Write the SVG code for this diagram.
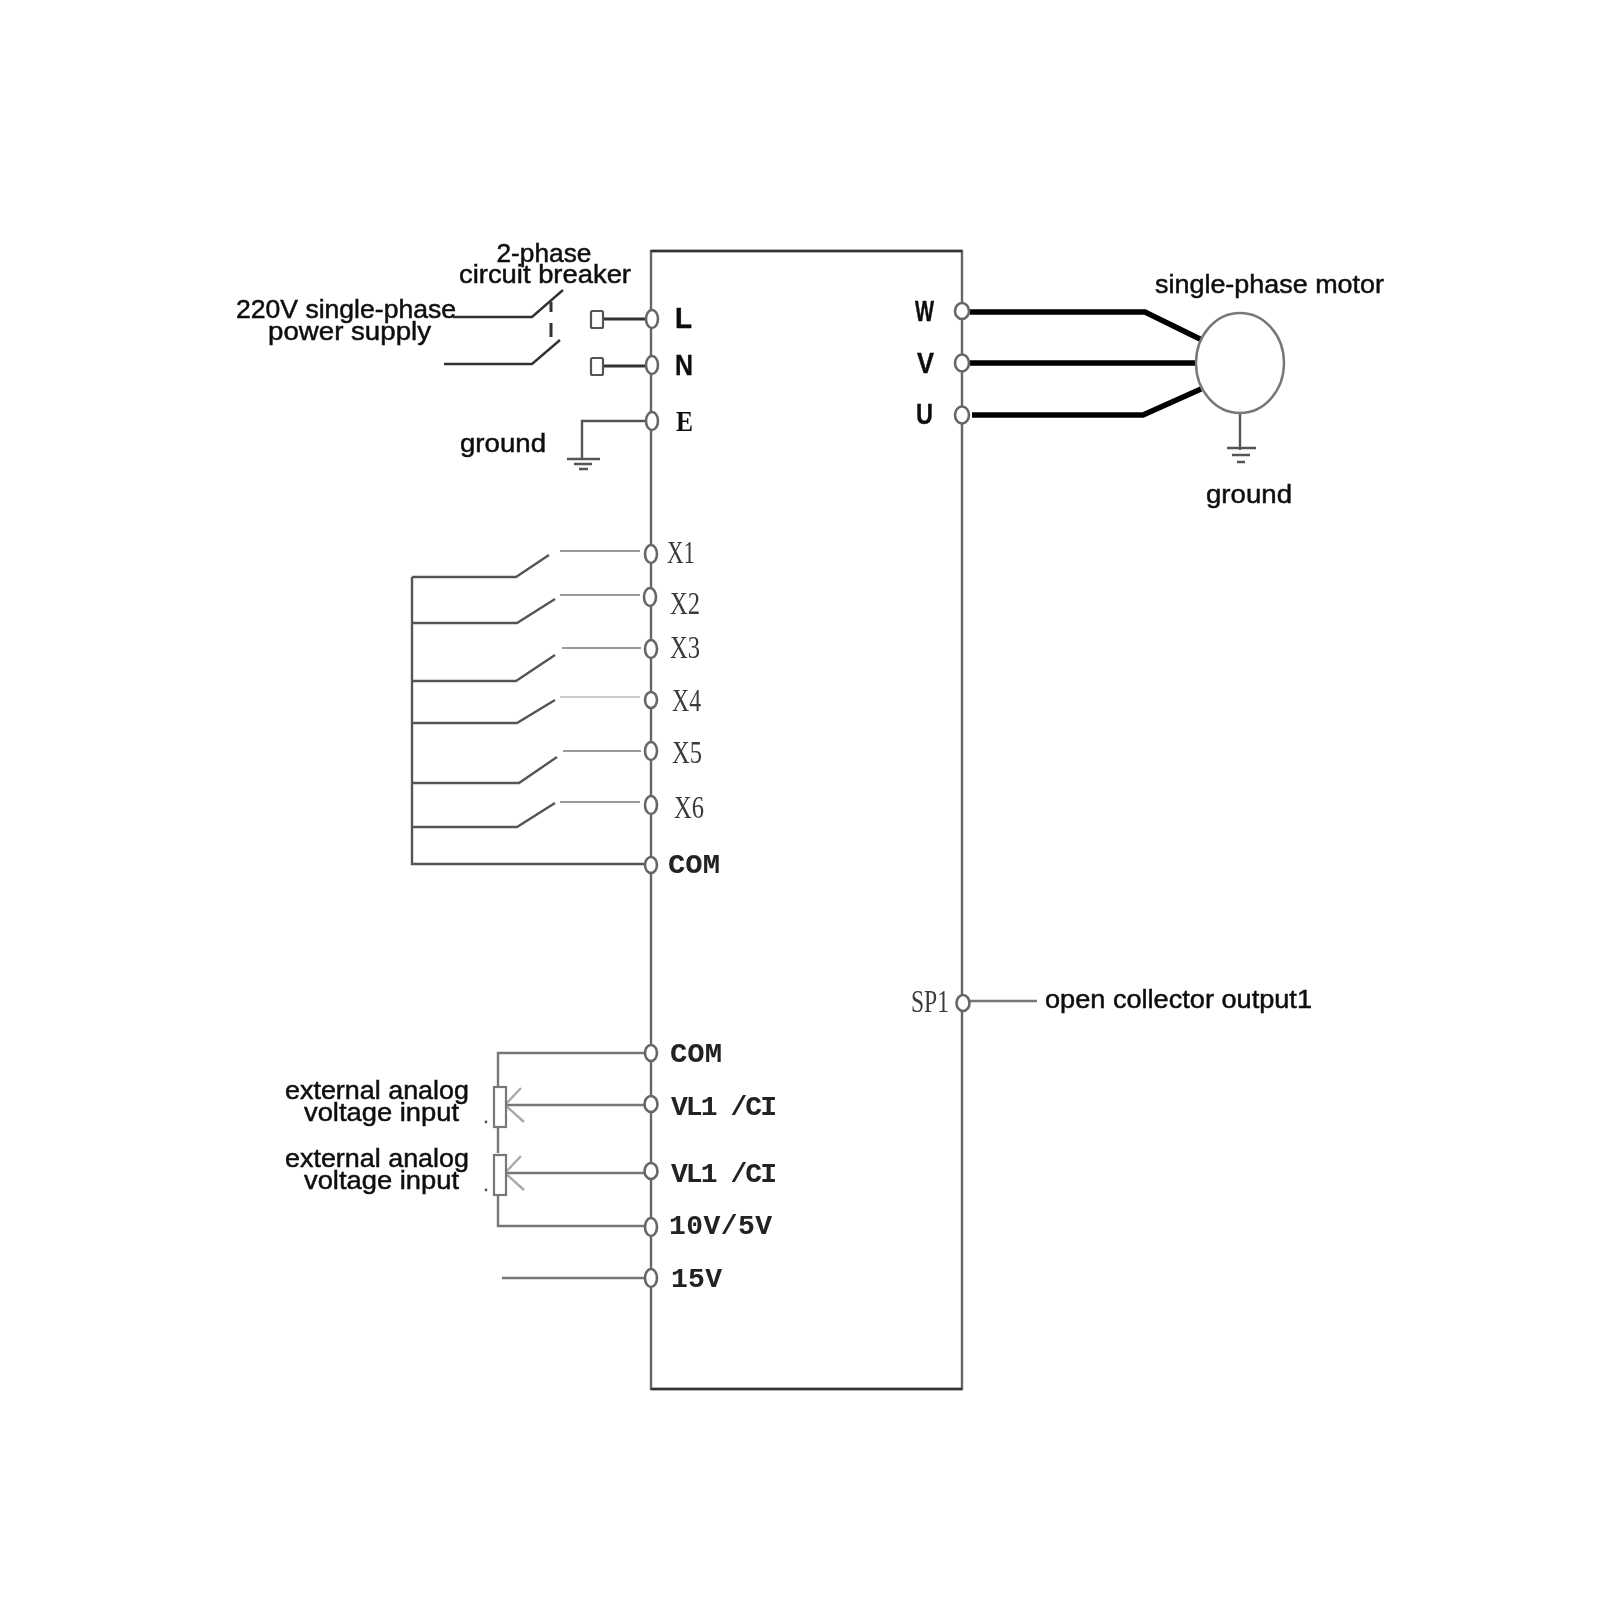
<svg xmlns="http://www.w3.org/2000/svg" width="1601" height="1601" viewBox="0 0 1601 1601">
<style>
.w{fill:none;stroke:#555;stroke-width:2.4}
.d{stroke:#333}
.l{stroke:#999;stroke-width:2}
.t{fill:none;stroke:#000;stroke-width:5.5}
.b{fill:none;stroke:#777;stroke-width:2.4}
.p{fill:#fff;stroke:#666;stroke-width:2.6}
.s{font-family:"Liberation Sans",Arial,sans-serif;font-size:26px;fill:#111;stroke:#111;stroke-width:.5}
.sb{font-family:"Liberation Sans",Arial,sans-serif;font-weight:bold;font-size:30px;fill:#111;stroke:#111;stroke-width:.4}
.m{font-family:"Liberation Mono",monospace;font-weight:bold;font-size:28px;fill:#222}
.r{font-family:"Liberation Serif",serif;font-size:32px;fill:#3a3a3a}
.eb{font-family:"Liberation Serif",serif;font-weight:bold;font-size:30px;fill:#111}
</style>
<defs>
<filter id="soft" x="-2%" y="-2%" width="104%" height="104%"><feGaussianBlur stdDeviation="0.7"/></filter>
</defs>
<rect width="1601" height="1601" fill="#fff"/>
<g filter="url(#soft)">
<g id="connectors">
<path class="w d" d="M453 317H532L563 290M444 364H532L560 340"/>
<path class="w d" style="stroke-width:3" d="M551 302V312M551 323V337"/>
<path class="w d" style="stroke-width:2.8" d="M600 319H645M600 366H645"/>
<path class="w" d="M645 421H582V458M567 459H600M574 464H592M579 469H588"/>
<path class="t" d="M970 312H1145L1202 340M970 363H1196M972 415H1143L1201 389"/>
<path class="w" d="M1240 413V450"/>
<path class="w" d="M1227 448H1256M1232 455H1250M1237 462H1245"/>
<path class="w" d="M412 577V864H645M412 577H516L549 555M412 623H517L555 599M412 681H516L555 655M412 723H517L555 700M412 783H519L557 757M412 827H517L555 803"/>
<path class="l" d="M560 551H640M560 595H640M562 648H641M563 751H641M560 802H640"/>
<path class="l" style="stroke:#ccc" d="M560 697H640"/>
<path class="b" d="M645 1053H498V1086M498 1127V1153M498 1195V1226H645"/>
<path class="b" d="M645 1105H505M645 1173H505"/>
<path class="b" style="stroke:#aaa" d="M505 1105L521 1088M505 1105L524 1122M505 1173L521 1156M505 1173L524 1190"/>
<path class="b" d="M645 1278H502M970 1001H1037"/>
</g>
<g id="inverter"><rect x="651" y="251" width="311" height="1138" fill="none" stroke="#666" stroke-width="2.4"/><path d="M651 251H962M651 1389H962" stroke="#333" stroke-width="2.4"/></g>
<g id="breaker"><text class="s" x="544" y="262" text-anchor="middle" textLength="95" lengthAdjust="spacingAndGlyphs">2-phase</text><text class="s" x="459" y="283" textLength="172" lengthAdjust="spacingAndGlyphs">circuit breaker</text></g>
<g id="supply"><text class="s" x="236" y="318" textLength="220" lengthAdjust="spacingAndGlyphs">220V single-phase</text><text class="s" x="268" y="340" textLength="163" lengthAdjust="spacingAndGlyphs">power supply</text></g>
<g id="ground-left"><text class="s" x="460" y="452" textLength="86" lengthAdjust="spacingAndGlyphs">ground</text></g>
<g id="fuse-l"><rect x="591" y="311" width="12" height="17" rx="1.5" fill="#fff" stroke="#555" stroke-width="2.2"/></g>
<g id="fuse-n"><rect x="591" y="358" width="12" height="17" rx="1.5" fill="#fff" stroke="#555" stroke-width="2.2"/></g>
<g id="t-l"><ellipse class="p" cx="652" cy="319" rx="6" ry="9"/><text class="sb" x="675" y="328" textLength="17" lengthAdjust="spacingAndGlyphs">L</text></g>
<g id="t-n"><ellipse class="p" cx="652" cy="365" rx="6" ry="9"/><text class="sb" x="675" y="375" textLength="18" lengthAdjust="spacingAndGlyphs">N</text></g>
<g id="t-e"><ellipse class="p" cx="652" cy="421" rx="6" ry="9"/><text class="eb" x="676" y="431" textLength="17" lengthAdjust="spacingAndGlyphs">E</text></g>
<g id="t-x1"><ellipse class="p" cx="651" cy="554" rx="6" ry="9"/><text class="r" x="667" y="563" textLength="28" lengthAdjust="spacingAndGlyphs">X1</text></g>
<g id="t-x2"><ellipse class="p" cx="650" cy="597" rx="6" ry="9"/><text class="r" x="670" y="614" textLength="30" lengthAdjust="spacingAndGlyphs">X2</text></g>
<g id="t-x3"><ellipse class="p" cx="651" cy="649" rx="6" ry="9"/><text class="r" x="670" y="658" textLength="30" lengthAdjust="spacingAndGlyphs">X3</text></g>
<g id="t-x4"><ellipse class="p" cx="651" cy="700" rx="6" ry="8"/><text class="r" x="672" y="711" textLength="29" lengthAdjust="spacingAndGlyphs">X4</text></g>
<g id="t-x5"><ellipse class="p" cx="651" cy="751" rx="6" ry="9"/><text class="r" x="672" y="763" textLength="30" lengthAdjust="spacingAndGlyphs">X5</text></g>
<g id="t-x6"><ellipse class="p" cx="651" cy="805" rx="6" ry="9"/><text class="r" x="674" y="818" textLength="30" lengthAdjust="spacingAndGlyphs">X6</text></g>
<g id="t-com1"><ellipse class="p" cx="651" cy="865" rx="6" ry="8"/><text class="m" x="668" y="873" textLength="52" lengthAdjust="spacingAndGlyphs">COM</text></g>
<g id="t-com2"><ellipse class="p" cx="651" cy="1053" rx="6" ry="8"/><text class="m" x="670" y="1062" textLength="52" lengthAdjust="spacingAndGlyphs">COM</text></g>
<g id="t-vl1"><ellipse class="p" cx="651" cy="1104" rx="6.500" ry="8"/><text class="m" x="671" y="1115" textLength="106" lengthAdjust="spacing">VL1 /CI</text></g>
<g id="t-vl2"><ellipse class="p" cx="651" cy="1171" rx="6.500" ry="8"/><text class="m" x="671" y="1182" textLength="106" lengthAdjust="spacing">VL1 /CI</text></g>
<g id="t-10v"><ellipse class="p" cx="651" cy="1227" rx="6" ry="9"/><text class="m" x="669" y="1234" textLength="103" lengthAdjust="spacing">10V/5V</text></g>
<g id="t-15v"><ellipse class="p" cx="651" cy="1278" rx="6" ry="9"/><text class="m" x="671" y="1287" textLength="51" lengthAdjust="spacing">15V</text></g>
<g id="r-1"><rect x="494" y="1087" width="12" height="40" fill="#fff" stroke="#777" stroke-width="2.2"/><circle cx="486" cy="1122" r="1.400" fill="#555"/></g>
<g id="r-2"><rect x="494" y="1155" width="12" height="40" fill="#fff" stroke="#777" stroke-width="2.2"/><circle cx="486" cy="1190" r="1.400" fill="#555"/></g>
<g id="analog-1"><text class="s" x="285" y="1099" textLength="184" lengthAdjust="spacingAndGlyphs">external analog</text><text class="s" x="304" y="1121" textLength="155" lengthAdjust="spacingAndGlyphs">voltage input</text></g>
<g id="analog-2"><text class="s" x="285" y="1167" textLength="184" lengthAdjust="spacingAndGlyphs">external analog</text><text class="s" x="304" y="1189" textLength="155" lengthAdjust="spacingAndGlyphs">voltage input</text></g>
<g id="t-w"><ellipse class="p" cx="962" cy="311" rx="7" ry="8"/><text class="sb" x="915" y="321" textLength="19" lengthAdjust="spacingAndGlyphs">W</text></g>
<g id="t-v"><ellipse class="p" cx="962" cy="363" rx="7" ry="8.500"/><text class="sb" x="917" y="373" textLength="17" lengthAdjust="spacingAndGlyphs">V</text></g>
<g id="t-u"><ellipse class="p" cx="962" cy="415" rx="7" ry="8.500"/><text class="sb" x="916" y="424" textLength="17" lengthAdjust="spacingAndGlyphs">U</text></g>
<g id="t-sp1"><ellipse class="p" cx="963" cy="1003" rx="6.500" ry="8"/><text class="r" x="911" y="1012" textLength="38" lengthAdjust="spacingAndGlyphs">SP1</text></g>
<g id="motor"><ellipse cx="1240" cy="363" rx="44" ry="50" fill="none" stroke="#777" stroke-width="2.4"/><text class="s" x="1155" y="293" textLength="229" lengthAdjust="spacingAndGlyphs">single-phase motor</text></g>
<g id="ground-right"><text class="s" x="1206" y="503" textLength="86" lengthAdjust="spacingAndGlyphs">ground</text></g>
<g id="output"><text class="s" x="1045" y="1008" textLength="267" lengthAdjust="spacingAndGlyphs">open collector output1</text></g>
</g>
</svg>
